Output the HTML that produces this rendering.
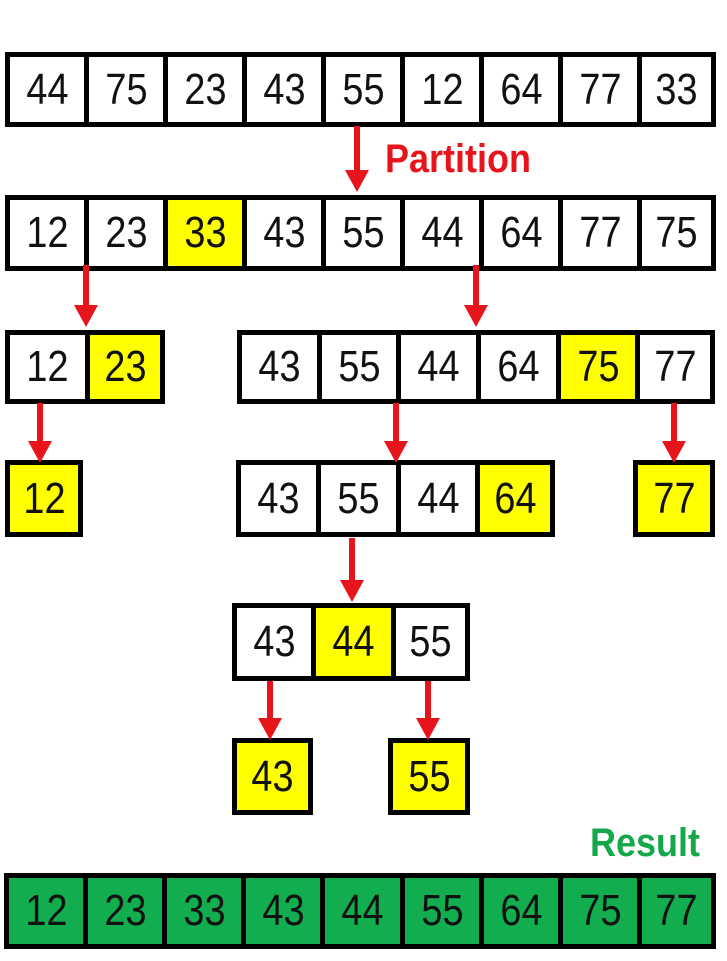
<!DOCTYPE html>
<html><head><meta charset="utf-8"><style>
html,body{margin:0;padding:0;background:#fff;width:727px;height:961px;overflow:hidden;position:relative;font-family:"Liberation Sans",sans-serif}
.cell{position:absolute;box-sizing:border-box;border:5px solid #000;display:flex;align-items:center;justify-content:center;font-size:44px;color:#111}
.cell span{display:inline-block;transform:scaleX(0.86)}
.arrow{position:absolute}
.lbl{position:absolute;font-weight:bold;font-size:40px;transform-origin:left top;transform:scaleX(0.9)}
</style></head><body>
<div class="lbl" style="left:385px;top:137px;color:#e8141c">Partition</div>
<div class="lbl" style="left:590px;top:821px;color:#14a84b">Result</div>
<script>
const groupValues = [
 [44,75,23,43,55,12,64,77,33],
 [12,23,33,43,55,44,64,77,75],
 [12,23],
 [43,55,44,64,75,77],
 [12],
 [43,55,44,64],
 [77],
 [43,44,55],
 [43],
 [55],
 [12,23,33,43,44,55,64,75,77]
];
const groupPivots = [-1,2,1,4,0,3,0,1,0,0,-1];
const groupNames = ['initial-array','partitioned-array','left-sub-array','right-sub-array','leaf-12','sub-array-43-64','leaf-77','sub-array-43-55','leaf-43','leaf-55','result-array'];
const groupBoxes = [
 [5,52,716,127],[5,195,716,271],[5,330,165,404],[237,330,715,404],
 [5,460,83,537],[236,460,555,537],[633,460,715,537],
 [232,603,470,681],[232,738,313,815],[388,738,470,815],[4,873,716,949]
];
const arrowList = [[357,126,192],[86,265,327],[476,265,327],[40,403,463],[396,403,463],[674,403,463],[352,538,602],[270,681,740],[428,681,740]];
groupValues.forEach((vals,g)=>{
  const [l,t,r,b]=groupBoxes[g];
  const w=(r-l)/vals.length;
  vals.forEach((v,i)=>{
    const d=document.createElement('div');
    d.className='cell';
    
    
    const x0=Math.round(l+i*w), x1=Math.round(l+(i+1)*w);
    d.style.left=x0+'px';d.style.top=t+'px';
    d.style.width=(x1-x0+(i<vals.length-1?5:0))+'px';d.style.height=(b-t)+'px';
    let bg='#fff';
    if(g===groupValues.length-1) bg='#12ad4f';
    else if(i===groupPivots[g]) bg='#ffff00';
    d.style.background=bg;
    const s=document.createElement('span');
    s.textContent=v;
    d.appendChild(s);
    document.body.appendChild(d);
  });
});
const ns='http://www.w3.org/2000/svg';
const svg=document.createElementNS(ns,'svg');
svg.setAttribute('width','727');svg.setAttribute('height','961');
svg.setAttribute('style','position:absolute;left:0;top:0');


arrowList.forEach(([x,y0,y1],k)=>{
  const p=document.createElementNS(ns,'path');
  p.setAttribute('d',`M${x-3},${y0} L${x+3},${y0} L${x+3},${y1-22} L${x+12},${y1-22} L${x},${y1} L${x-12},${y1-22} L${x-3},${y1-22} Z`);
  p.setAttribute('fill','#e8141c');
  
  
  svg.appendChild(p);
});
document.body.appendChild(svg);
</script>
</body></html>
